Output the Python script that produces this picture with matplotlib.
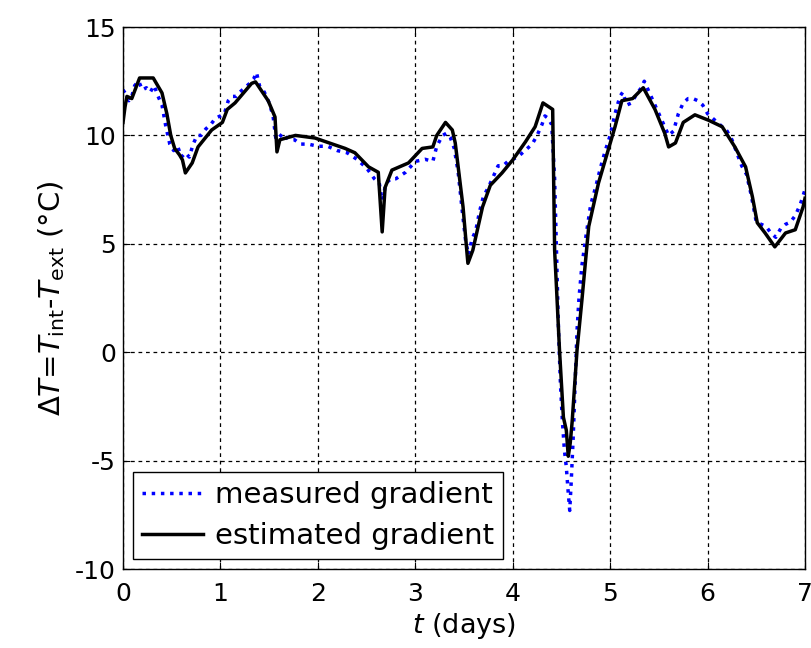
import matplotlib
matplotlib.use('Agg')
import matplotlib.pyplot as plt

plt.rcParams['font.family'] = 'DejaVu Sans'
plt.rcParams['mathtext.fontset'] = 'dejavusans'
plt.rcParams['axes.unicode_minus'] = False

# measured gradient (blue dotted)
t_meas = [0.00, 0.03, 0.06, 0.09, 0.12, 0.16, 0.20, 0.24, 0.28, 0.32, 0.36, 0.40, 0.44, 0.48,
          0.52, 0.56, 0.60, 0.64, 0.68, 0.72, 0.76, 0.80, 0.85, 0.90, 0.95, 1.00, 1.04, 1.08,
          1.12, 1.16, 1.20, 1.25, 1.30, 1.34, 1.37, 1.40, 1.45, 1.50, 1.54, 1.57, 1.60, 1.64,
          1.70, 1.76, 1.82, 1.90, 2.00, 2.10, 2.20, 2.30, 2.40, 2.50, 2.58, 2.63, 2.66, 2.70,
          2.75, 2.80, 2.90, 3.00, 3.10, 3.18, 3.22, 3.28, 3.32, 3.36, 3.40, 3.44, 3.48, 3.52,
          3.55, 3.58, 3.62, 3.66, 3.70, 3.75, 3.80, 3.85, 3.90, 3.95, 4.00, 4.05, 4.10, 4.15,
          4.20, 4.25, 4.30, 4.33, 4.36, 4.40, 4.43, 4.45, 4.47, 4.49, 4.51, 4.53, 4.55, 4.57,
          4.585, 4.60, 4.62, 4.64, 4.66, 4.68, 4.71, 4.75, 4.80, 4.85, 4.90, 4.95, 5.00, 5.05,
          5.10, 5.13, 5.17, 5.22, 5.27, 5.32, 5.35, 5.40, 5.45, 5.50, 5.55, 5.60, 5.65, 5.70,
          5.75, 5.80, 5.85, 5.90, 5.95, 6.00, 6.05, 6.10, 6.15, 6.20, 6.25, 6.30, 6.35, 6.40,
          6.45, 6.50, 6.55, 6.60, 6.65, 6.70, 6.75, 6.80, 6.85, 6.90, 6.95, 7.00]
dT_meas = [12.1, 11.9, 11.6, 11.8, 12.3, 12.5, 12.1, 12.2, 12.0, 12.3, 11.8, 11.4, 10.4, 9.6,
           9.3, 9.5, 9.0, 9.2, 9.0, 9.6, 10.0, 10.0, 10.3, 10.5, 10.8, 10.9, 11.0, 11.6,
           11.8, 11.8, 12.0, 12.2, 12.4, 12.6, 12.9, 12.3, 12.0, 11.5, 10.9, 9.8, 9.9, 10.1,
           9.8, 9.8, 9.6, 9.6, 9.5, 9.5, 9.3, 9.2, 8.9, 8.5, 8.0, 7.8, 7.0, 7.8,
           8.0, 8.0, 8.3, 8.8, 8.9, 8.8, 9.5, 10.0, 10.1, 9.9, 9.4, 8.3, 6.6, 5.0,
           4.5, 5.2, 5.6, 6.5, 7.2, 7.6, 8.1, 8.6, 8.6, 8.8, 8.9, 9.0, 9.2, 9.4,
           9.6, 10.0, 10.5, 10.9, 10.8, 10.5, 8.0, 4.5, 1.0, -1.5, -3.2, -4.5, -5.3, -6.5,
           -7.3, -6.0, -4.0, -1.5, 1.0, 2.5, 4.0, 5.3, 6.8, 7.6, 8.5, 9.3, 10.0, 11.0,
           11.8, 12.0, 11.4, 11.5, 11.9, 12.2, 12.5, 12.0, 11.5, 11.0, 10.5, 10.0, 10.2, 11.0,
           11.5, 11.7, 11.7, 11.6, 11.4, 11.0, 10.8, 10.6, 10.4, 10.2, 9.8, 9.2, 8.6, 8.2,
           7.2, 6.0, 5.9, 5.8, 5.5, 5.3, 5.7, 5.9, 6.0, 6.3, 6.8, 7.5]

# estimated gradient (black solid)
t_est = [0.00, 0.02, 0.04, 0.09, 0.17, 0.31, 0.40, 0.45, 0.49, 0.53, 0.58, 0.61, 0.64, 0.71,
         0.77, 0.91, 1.02, 1.07, 1.15, 1.32, 1.36, 1.49, 1.56, 1.58, 1.61, 1.77, 1.97, 2.28,
         2.38, 2.52, 2.62, 2.66, 2.69, 2.76, 2.93, 3.07, 3.18, 3.22, 3.31, 3.38, 3.41, 3.44,
         3.49, 3.53, 3.54, 3.59, 3.63, 3.69, 3.77, 3.89, 4.00, 4.13, 4.23, 4.31, 4.41, 4.43,
         4.45, 4.48, 4.52, 4.55, 4.57, 4.59, 4.61, 4.66, 4.71, 4.78, 4.88, 4.95, 5.05, 5.12,
         5.23, 5.34, 5.46, 5.56, 5.60, 5.67, 5.75, 5.87, 6.01, 6.15, 6.28, 6.39, 6.46, 6.51,
         6.59, 6.69, 6.80, 6.90, 6.98, 7.00]
dT_est = [10.6, 11.3, 11.8, 11.7, 12.65, 12.65, 11.96, 11.0, 10.0, 9.4, 9.1, 8.87, 8.27, 8.73,
          9.47, 10.25, 10.6, 11.2, 11.5, 12.4, 12.47, 11.6, 10.85, 9.24, 9.8, 10.0, 9.88, 9.4,
          9.2, 8.55, 8.3, 5.55, 7.6, 8.4, 8.73, 9.4, 9.47, 10.0, 10.6, 10.25, 9.65, 8.55,
          6.7, 4.6, 4.1, 4.7, 5.5, 6.7, 7.7, 8.27, 8.87, 9.7, 10.4, 11.5, 11.2, 4.7,
          2.9, 0.1, -3.0, -3.6, -4.8, -4.2, -3.2, 0.1, 2.4, 5.8, 7.8, 8.87, 10.4, 11.6,
          11.7, 12.2, 11.2, 10.1, 9.47, 9.65, 10.6, 10.95, 10.7, 10.4, 9.47, 8.55, 7.17, 5.97,
          5.5, 4.86, 5.5, 5.65, 6.7, 7.1]

x_ticks = [0, 1, 2, 3, 4, 5, 6, 7]
y_ticks = [-10, -5, 0, 5, 10, 15]

fig = plt.figure(figsize=(8.12, 6.48), dpi=100)
ax = fig.add_axes([0.1515, 0.1219, 0.8399, 0.8364])

ax.plot(t_meas, dT_meas, ':', color='#0000ff', linewidth=2.5, label='measured gradient')
ax.plot(t_est, dT_est, '-', color='black', linewidth=2.5, label='estimated gradient')

ax.set_xlim(0, 7)
ax.set_ylim(-10, 15)
ax.set_xticks(x_ticks)
ax.set_yticks(y_ticks)
ax.tick_params(direction='in', labelsize=18, length=5, top=True, right=True)
ax.tick_params(axis='x', pad=9)
ax.tick_params(axis='y', pad=5)
ax.grid(True, color='black', linestyle=(0, (3, 3)), linewidth=0.9)
for s in ax.spines.values():
    s.set_linewidth(1.0)

ax.set_xlabel(r'$\mathit{t}$ (days)', fontsize=19.5, labelpad=4)
ax.set_ylabel(r'$\mathit{\Delta T}$=$\mathit{T}_{\mathrm{int}}$-$\mathit{T}_{\mathrm{ext}}$ (°C)',
              fontsize=21, labelpad=6)

leg = ax.legend(loc='lower left', fontsize=21, fancybox=False, framealpha=1,
                edgecolor='black', handlelength=2.1, borderaxespad=0.35, handletextpad=0.4,
                borderpad=0.3, labelspacing=0.45)
leg.get_frame().set_linewidth(1.0)

fig.savefig('out.png', dpi=100)
